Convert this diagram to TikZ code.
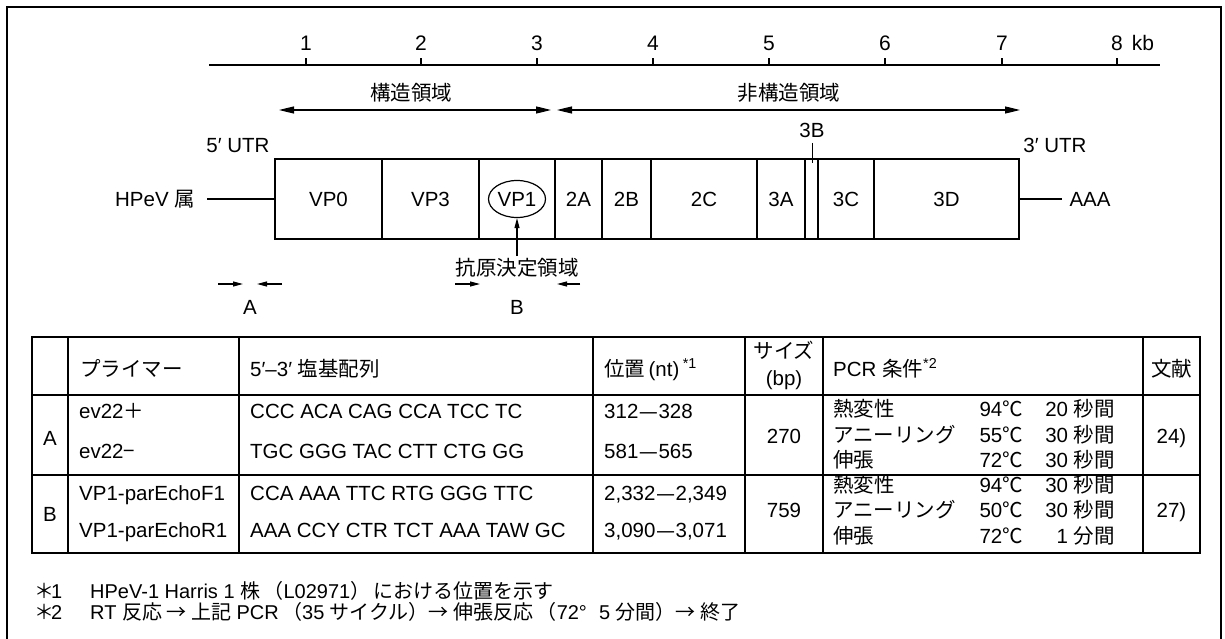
\documentclass[tikz,border=0pt]{standalone}
\usepackage{fontspec}
\setmainfont{Liberation Sans}
\newfontfamily\jp{Noto Sans CJK JP}
\newcommand\ldash{\kern1.5pt\scalebox{1.5}[1]{–}\kern1.5pt}
\usetikzlibrary{arrows.meta,shapes.geometric}
\begin{document}
\begin{tikzpicture}[x=1pt,y=-1pt,font=\fontsize{20.5}{24}\selectfont,
  txt/.style={inner sep=0,anchor=base},
  txtw/.style={inner sep=0,anchor=base west},
  txte/.style={inner sep=0,anchor=base east},
  foot/.style={inner sep=0,anchor=base west,font=\fontsize{20}{24}\selectfont},
  seg/.style={draw,line width=1.3pt,minimum height=80pt,inner sep=0},
  bigarrow/.style={line width=1.2pt,{Triangle[length=15pt,width=7pt]}-{Triangle[length=15pt,width=7pt]}},
  smallarrow/.style={line width=1.1pt,-{Triangle[length=10pt,width=5pt]}},
  grid/.style={line width=1.2pt},
  outer/.style={line width=1.8pt}]
\useasboundingbox (0,0) rectangle (1225,639);
% frame
\draw[line width=1.5pt] (7,639) -- (7,7) -- (1221,7) -- (1221,639);
% axis
\coordinate (ax0) at (209,65);
\coordinate (ax1) at (1160,65);
\draw[line width=1.2pt] (ax0) -- (ax1);
\foreach \x/\l [count=\i] in {306/1,421/2,537/3,653/4,769/5,885/6,1002/7} {
  \draw[line width=1.1pt] (\x,65) -- (\x,58);
  \node[txt,font=\fontsize{21}{24}\selectfont] (tick\i) at (\x,51) {\l};
}
\draw[line width=1.1pt] (1117,65) -- (1117,58);
\node[txtw,font=\fontsize{21}{24}\selectfont] (tick8) at (1111,51) {8\hspace{9pt}kb};
% regions
\node[txt] (struct) at (411,101) {\jp 構造領域};
\node[txt] (nonstruct) at (789,101) {\jp 非構造領域};
\coordinate (s0) at (279,110); \coordinate (s1) at (551,110);
\coordinate (n0) at (557,110); \coordinate (n1) at (1020,110);
\draw[bigarrow] (s0) -- (s1);
\draw[bigarrow] (n0) -- (n1);
% UTR labels
\node[txt] (utr5) at (238,153) {5′ UTR};
\node[txt] (utr3) at (1055,153) {3′ UTR};
% genome segments
\node[seg,minimum width=107pt] (vp0) at (328.5,199) {VP0};
\node[seg,minimum width=97pt] (vp3) at (430.5,199) {VP3};
\node[seg,minimum width=76pt] (vp1s) at (517,199) {};
\node[seg,minimum width=47pt] (s2a) at (578.5,199) {2A};
\node[seg,minimum width=49pt] (s2b) at (626.5,199) {2B};
\node[seg,minimum width=106pt] (s2c) at (704,199) {2C};
\node[seg,minimum width=48pt] (s3a) at (781,199) {3A};
\node[seg,minimum width=13pt] (s3b) at (811.5,199) {};
\node[seg,minimum width=56pt] (s3c) at (846,199) {3C};
\node[seg,minimum width=145pt] (s3d) at (946.5,199) {3D};
\node[draw,ellipse,line width=1.2pt,minimum width=57pt,minimum height=37pt,inner sep=0] (vp1) at (517,199) {VP1};
% 3B label
\node[txt] (l3b) at (812,138) {3B};
\coordinate (b3top) at (812,143);
\coordinate (b3bot) at (812,163);
\draw[line width=1pt] (b3top) -- (b3bot);
% HPeV and AAA
\node[txt] (hpev) at (155,207) {HPeV {\jp 属}};
\coordinate (hl) at (207,199);
\draw[line width=1.2pt] (hl) -- (vp0.west);
\node[txt] (aaa) at (1090,207) {AAA};
\coordinate (al) at (1062,199);
\draw[line width=1.2pt] (s3d.east) -- (al);
% antigen
\node[txt] (antigen) at (517,275) {\jp 抗原決定領域};
\coordinate (agtop) at (517,256);
\draw[smallarrow] (agtop) -- (vp1.south);
% primer arrows
\coordinate (pa1) at (218,284); \coordinate (pa2) at (243,284);
\coordinate (pa3) at (282,284); \coordinate (pa4) at (257,284);
\coordinate (pb1) at (455,284); \coordinate (pb2) at (480,284);
\coordinate (pb3) at (580,284); \coordinate (pb4) at (557,284);
\draw[smallarrow] (pa1) -- (pa2);
\draw[smallarrow] (pa3) -- (pa4);
\draw[smallarrow] (pb1) -- (pb2);
\draw[smallarrow] (pb3) -- (pb4);
\node[txt] (la) at (250,314) {A};
\node[txt] (lb) at (517,314) {B};
% table grid
\draw[grid] (32,395) -- (1200,395);
\draw[grid] (32,475) -- (1200,475);
\foreach \x in {68,239,593,745,823,1143} \draw[grid] (\x,337) -- (\x,553);
\draw[outer] (32,337) rectangle (1200,553);
% header
\node[txtw] (h1) at (80,376) {\jp プライマー};
\node[txtw] (h2) at (250,376) {5′–3′ {\jp 塩基配列}};
\node[txtw] (h3) at (604,376) {{\jp 位置}\,(nt)\,\textsuperscript{*1}};
\node[txt] (h4a) at (784,358) {\jp サイズ};
\node[txt] (h4b) at (784,385) {(bp)};
\node[txtw] (h5) at (833,376) {PCR {\jp 条件}\textsuperscript{*2}};
\node[txt] (h6) at (1171.5,376) {\jp 文献};
% row A
\node[txt] (ra) at (50,445) {A};
\node[txtw] (pa) at (79,418) {ev22{\jp ＋}};
\node[txtw] (pam) at (79,458) {ev22{\jp −}};
\node[txtw] (sa1) at (250,418) {CCC ACA CAG CCA TCC TC};
\node[txtw] (sa2) at (250,458) {TGC GGG TAC CTT CTG GG};
\node[txtw] (posa1) at (604,418) {312\ldash 328};
\node[txtw] (posa2) at (604,458) {581\ldash 565};
\node[txt] (sza) at (784,443) {270};
\node[txtw] (ca1) at (833,416) {\jp 熱変性};
\node[txtw] (ca2) at (833,442) {\jp アニーリング};
\node[txtw] (ca3) at (833,467) {\jp 伸張};
\node[txte] (ta1) at (1023,416) {94{\jp ℃}};
\node[txte] (ta2) at (1023,442) {55{\jp ℃}};
\node[txte] (ta3) at (1023,467) {72{\jp ℃}};
\node[txte] (da1) at (1115,416) {20 {\jp 秒間}};
\node[txte] (da2) at (1115,442) {30 {\jp 秒間}};
\node[txte] (da3) at (1115,467) {30 {\jp 秒間}};
\node[txt] (refa) at (1171.5,443) {24)};
% row B
\node[txt] (rb) at (50,521) {B};
\node[txtw] (pb) at (79,500) {VP1-parEchoF1};
\node[txtw] (pbm) at (79,537) {VP1-parEchoR1};
\node[txtw] (sb1) at (250,500) {CCA AAA TTC RTG GGG TTC};
\node[txtw] (sb2) at (250,537) {AAA CCY CTR TCT AAA TAW GC};
\node[txtw] (posb1) at (604,500) {2,332\ldash 2,349};
\node[txtw] (posb2) at (604,537) {3,090\ldash 3,071};
\node[txt] (szb) at (784,517) {759};
\node[txtw] (cb1) at (833,492) {\jp 熱変性};
\node[txtw] (cb2) at (833,517) {\jp アニーリング};
\node[txtw] (cb3) at (833,543) {\jp 伸張};
\node[txte] (tb1) at (1023,492) {94{\jp ℃}};
\node[txte] (tb2) at (1023,517) {50{\jp ℃}};
\node[txte] (tb3) at (1023,543) {72{\jp ℃}};
\node[txte] (db1) at (1115,492) {30 {\jp 秒間}};
\node[txte] (db2) at (1115,517) {30 {\jp 秒間}};
\node[txte] (db3) at (1115,543) {1 {\jp 分間}};
\node[txt] (refb) at (1171.5,517) {27)};
% footnotes
\node[foot] (f1a) at (34,598) {{\jp ＊}\kern-3pt 1};
\node[foot] (f1b) at (90,598) {HPeV-1 Harris 1 {\jp 株\,（}L02971{\jp ）\,における位置を示す}};
\node[foot] (f2a) at (34,619) {{\jp ＊}\kern-3pt 2};
\node[foot] (f2b) at (90,619) {RT {\jp 反応 → 上記} PCR\,{\jp （}35 {\jp サイクル）→ 伸張反応\,（}72°\,\, 5 {\jp 分間）→ 終了}};
\end{tikzpicture}
\end{document}
